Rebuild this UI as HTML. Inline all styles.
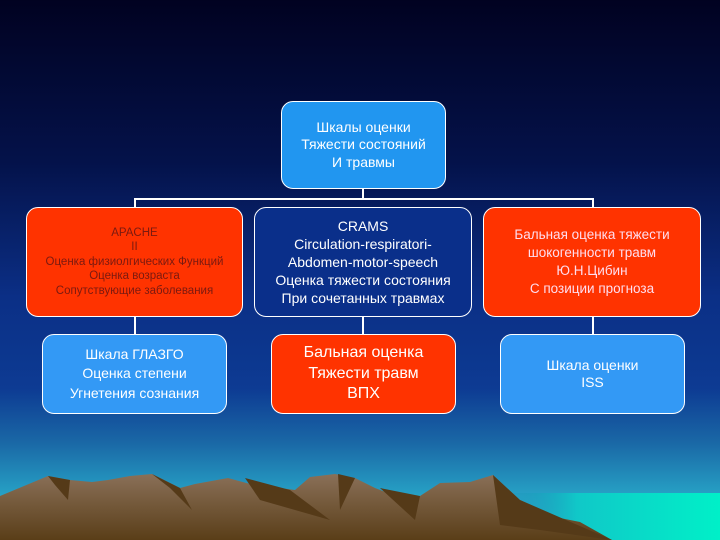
<html><head><style>
body{margin:0;width:720px;height:540px;overflow:hidden;position:relative;font-family:"Liberation Sans",sans-serif;
background:linear-gradient(180deg,#010221 0%,#04124a 30%,#0b2f86 55%,#0d3b93 72%,#1a68a6 82%,#27a3c6 92%,#30b0cc 100%);}
.b{position:absolute;box-sizing:border-box;border:1.5px solid #fff;border-radius:12px;display:flex;align-items:center;justify-content:center;text-align:center;color:#fff;line-height:1.25}
.l{position:absolute;background:#fff}
</style></head><body>
<svg width="720" height="540" style="position:absolute;left:0;top:0">
<defs><linearGradient id="sea" x1="0" x2="1"><stop offset="0" stop-color="#1a7fb0" stop-opacity="0"/><stop offset="0.35" stop-color="#10c8c8"/><stop offset="1" stop-color="#00f0c8"/></linearGradient>
<linearGradient id="m" x1="0" y1="0" x2="0" y2="1"><stop offset="0" stop-color="#8a7058"/><stop offset="1" stop-color="#5a3e18"/></linearGradient></defs>
<rect x="500" y="493" width="220" height="47" fill="url(#sea)"/>
<polygon fill="url(#m)" points="0,496 48,476 70,480 92,482 108,480 130,476 152,474 180,488 195,484 228,478 250,484 295,490 310,477 335,474 355,478 375,488 400,498 420,496 440,483 470,482 493,475 520,500 560,518 580,522 612,540 0,540"/>
<polygon fill="#553a18" points="48,476 70,480 68,500 55,485"/><polygon fill="#553a18" points="152,474 180,488 192,510 170,488"/>
<polygon fill="#553a18" points="245,478 290,490 330,520 260,500"/><polygon fill="#553a18" points="338,474 355,478 340,510"/>
<polygon fill="#553a18" points="380,488 420,496 415,520"/><polygon fill="#553a18" points="493,475 520,500 612,540 540,530 500,525"/>
</svg>
<div class="l" style="left:362px;top:188px;width:2px;height:12px"></div>
<div class="l" style="left:134px;top:198px;width:460px;height:2px"></div>
<div class="l" style="left:134px;top:198px;width:2px;height:10px"></div>
<div class="l" style="left:592px;top:198px;width:2px;height:10px"></div>
<div class="l" style="left:134px;top:316px;width:2px;height:18px"></div>
<div class="l" style="left:362px;top:316px;width:2px;height:18px"></div>
<div class="l" style="left:592px;top:316px;width:2px;height:18px"></div>
<div class="b" style="left:281px;top:101px;width:165px;height:88px;background:#2196f0;font-size:14px">Шкалы оценки<br>Тяжести состояний<br>И травмы</div>
<div class="b" style="left:26px;top:207px;width:217px;height:110px;background:#ff3300;color:#7a1a10;font-size:11.5px">APACHE<br>II<br>Оценка физиолгических Функций<br>Оценка возраста<br>Сопутствующие заболевания</div>
<div class="b" style="left:254px;top:207px;width:218px;height:110px;background:#0a2f8a;font-size:14px;line-height:1.3">CRAMS<br>Circulation-respiratori-<br>Abdomen-motor-speech<br>Оценка тяжести состояния<br>При сочетанных травмах</div>
<div class="b" style="left:483px;top:207px;width:218px;height:110px;background:#ff3300;color:#fde;font-size:13.5px;line-height:1.35">Бальная оценка тяжести<br>шокогенности травм<br>Ю.Н.Цибин<br>С позиции прогноза</div>
<div class="b" style="left:42px;top:334px;width:185px;height:80px;background:#3399f5;font-size:14px;line-height:1.4">Шкала ГЛАЗГО<br>Оценка степени<br>Угнетения сознания</div>
<div class="b" style="left:271px;top:334px;width:185px;height:80px;background:#ff3300;font-size:16px;line-height:1.3">Бальная оценка<br>Тяжести травм<br>ВПХ</div>
<div class="b" style="left:500px;top:334px;width:185px;height:80px;background:#3399f5;font-size:14px">Шкала оценки<br>ISS</div>
</body></html>
